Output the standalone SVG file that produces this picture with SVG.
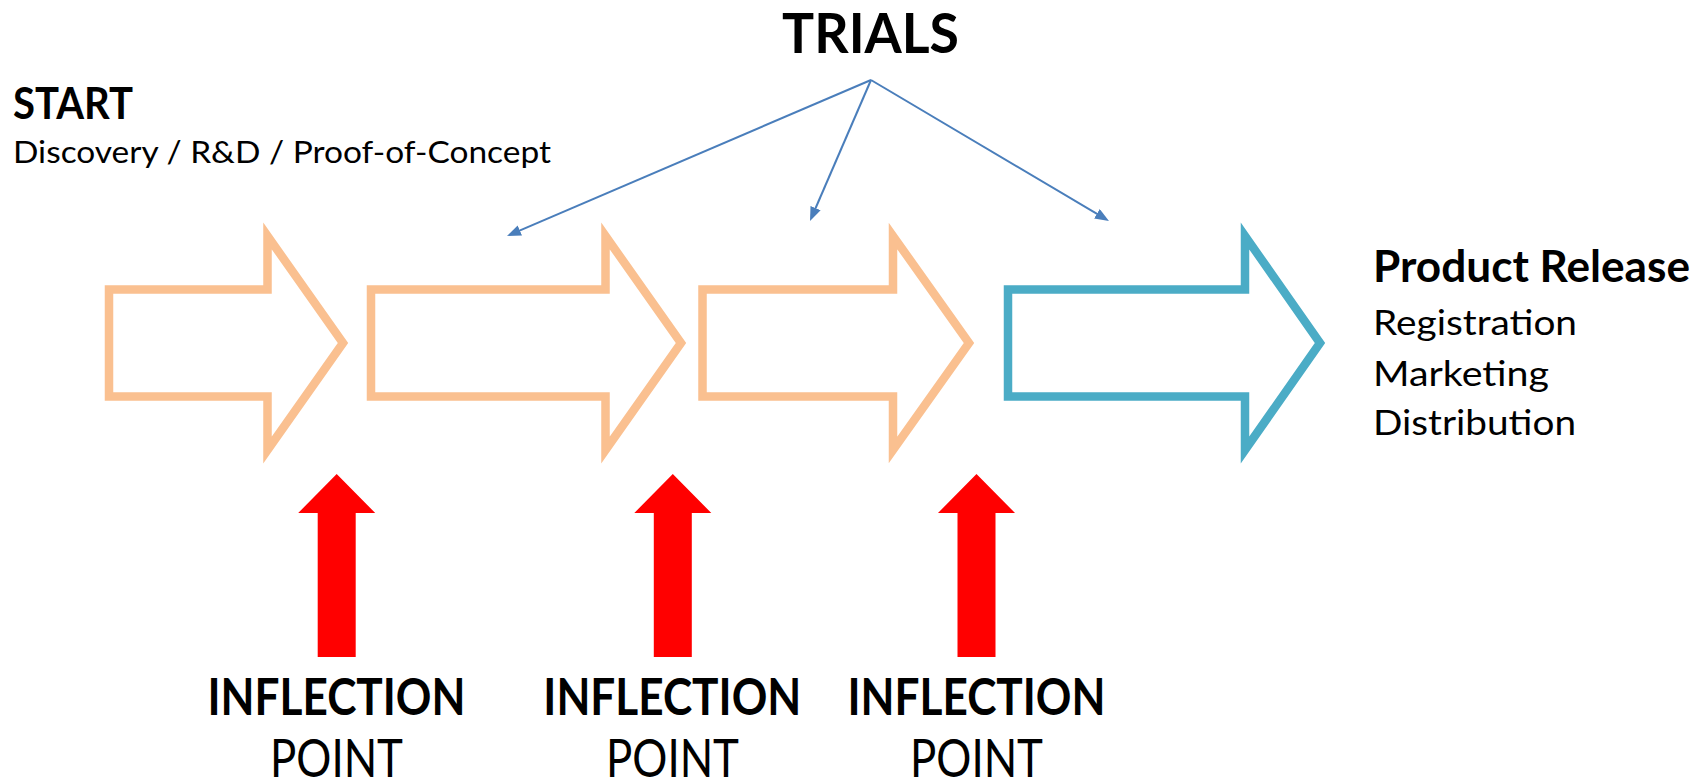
<svg xmlns="http://www.w3.org/2000/svg" width="1705" height="781" viewBox="0 0 1705 781">
  <defs>
    <marker id="tri" viewBox="0 0 14 11" refX="8" refY="5.5" markerWidth="14" markerHeight="11" markerUnits="userSpaceOnUse" orient="auto">
      <path d="M0,0 L14,5.5 L0,11 Z" fill="#4A7EBB"/>
    </marker>
  </defs>
  <style>
    .stage{fill:none;stroke:#FAC090;stroke-width:8.5;stroke-linejoin:miter}
    .release{fill:none;stroke:#4BACC6;stroke-width:8.5;stroke-linejoin:miter}
    .push{fill:#FF0000}
    .conn{fill:none;stroke:#4A7EBB;stroke-width:2;marker-end:url(#tri)}
    text{font-family:Lato,"Open Sans",sans-serif;fill:#000}
    .b{font-weight:700}
    .mid{text-anchor:middle}
  </style>
  <rect width="1705" height="781" fill="#FFFFFF"/>

  <!-- heading above the trial links -->
  <g id="trials">
    <text class="b mid" x="870.5" y="53" font-size="56" textLength="177" lengthAdjust="spacingAndGlyphs">TRIALS</text>
  </g>

  <!-- start label -->
  <g id="start">
    <text class="b" x="13" y="119" font-size="43" textLength="120" lengthAdjust="spacingAndGlyphs">START</text>
    <text x="13" y="163" font-size="31" textLength="538" lengthAdjust="spacingAndGlyphs">Discovery / R&amp;D / Proof-of-Concept</text>
  </g>

  <!-- stage arrows -->
  <g id="stage1">
    <path class="stage" d="M109,289.5 H267.5 V236 L343,343 L267.5,450 V396.5 H109 Z"/>
  </g>
  <g id="stage2">
    <path class="stage" d="M371,289.5 H605.5 V236 L681,343 L605.5,450 V396.5 H371 Z"/>
  </g>
  <g id="stage3">
    <path class="stage" d="M702.5,289.5 H893 V236 L969,343 L893,450 V396.5 H702.5 Z"/>
  </g>
  <g id="release">
    <path class="release" d="M1008,289.5 H1245 V236 L1320,343 L1245,450 V396.5 H1008 Z"/>
  </g>

  <!-- release label -->
  <g id="release-label">
    <text class="b" x="1373" y="282" font-size="44" textLength="317" lengthAdjust="spacingAndGlyphs">Product Release</text>
    <text x="1373" y="335" font-size="34" textLength="204" lengthAdjust="spacingAndGlyphs">Registration</text>
    <text x="1373" y="386" font-size="34" textLength="176" lengthAdjust="spacingAndGlyphs">Marketing</text>
    <text x="1373" y="435" font-size="34" textLength="203" lengthAdjust="spacingAndGlyphs">Distribution</text>
  </g>

  <!-- inflection points -->
  <g id="inflection1">
    <path class="push" d="M336.7,474 L375.2,513 H355.7 V657 H317.7 V513 H298.2 Z"/>
    <text class="b mid" x="336.5" y="715" font-size="52" textLength="258" lengthAdjust="spacingAndGlyphs">INFLECTION</text>
    <text class="mid" x="336.5" y="777" font-size="52" textLength="133" lengthAdjust="spacingAndGlyphs">POINT</text>
  </g>
  <g id="inflection2">
    <path class="push" d="M672.8,474 L711.3,513 H691.8 V657 H653.8 V513 H634.3 Z"/>
    <text class="b mid" x="672.3" y="715" font-size="52" textLength="258" lengthAdjust="spacingAndGlyphs">INFLECTION</text>
    <text class="mid" x="672.5" y="777" font-size="52" textLength="133" lengthAdjust="spacingAndGlyphs">POINT</text>
  </g>
  <g id="inflection3">
    <path class="push" d="M976.5,474 L1015,513 H995.5 V657 H957.5 V513 H938 Z"/>
    <text class="b mid" x="976.5" y="715" font-size="52" textLength="258" lengthAdjust="spacingAndGlyphs">INFLECTION</text>
    <text class="mid" x="976.5" y="777" font-size="52" textLength="133" lengthAdjust="spacingAndGlyphs">POINT</text>
  </g>

  <!-- trial connectors -->
  <g id="connectors">
    <path class="conn" d="M871,80 L512.5,233.6"/>
    <path class="conn" d="M871,80 L812.4,215.5"/>
    <path class="conn" d="M871,80 L1103.8,217.9"/>
  </g>
</svg>
